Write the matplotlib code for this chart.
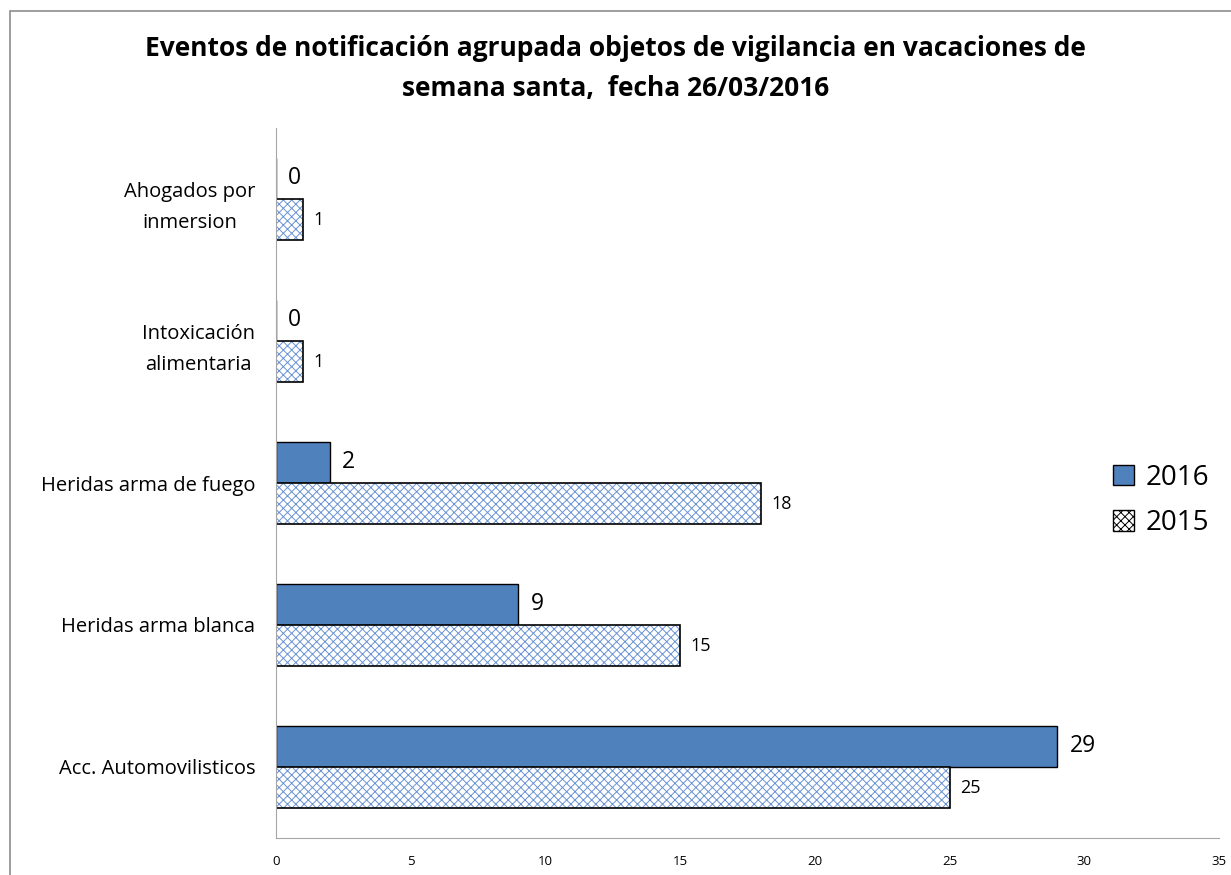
import matplotlib
matplotlib.use("Agg")
import matplotlib.pyplot as plt
from matplotlib.patches import Patch, Rectangle
import numpy as np

categories = ["Acc. Automovilisticos", "Heridas arma blanca", "Heridas arma de fuego",
              "Intoxicación\nalimentaria", "Ahogados por\ninmersion"]
values_2016 = [29, 9, 2, 0, 0]
values_2015 = [25, 15, 18, 1, 1]
series_labels = ["2016", "2015"]
x_ticks = [0, 5, 10, 15, 20, 25, 30, 35]

plt.rcParams["font.family"] = ["Open Sans", "DejaVu Sans"]
plt.rcParams["hatch.linewidth"] = 0.7

blue = "#4F81BD"
hatch_blue = "#6A93D4"

fig = plt.figure(figsize=(12.31, 8.75), dpi=100)
ax = fig.add_axes([0.2242, 0.0423, 0.766, 0.8114])

# Outer chart frame
fig.patches.append(Rectangle((0.0081, -0.1), 1.1, 0.987 + 0.1, transform=fig.transFigure,
                             fill=False, edgecolor="#8c8c8c", linewidth=1.2))

y = np.arange(len(categories))
h = 0.29

ax.barh(y + h / 2, values_2016, height=h, color=blue, edgecolor="black", linewidth=1.0)
ax.barh(y - h / 2, values_2015, height=h, color="white", edgecolor=hatch_blue,
        hatch="xxxx", linewidth=0)
ax.barh(y - h / 2, values_2015, height=h, fill=False, edgecolor="black", linewidth=1.2)

for yi, v in zip(y, values_2016):
    ax.text(v + 0.45, yi + h / 2, str(v), va="center", ha="left", fontsize=16.5)
for yi, v in zip(y, values_2015):
    ax.text(v + 0.4, yi - h / 2, str(v), va="center", ha="left", fontsize=13)

ax.set_xlim(0, 35)
ax.set_ylim(-0.5, 4.5)
ax.set_xticks(x_ticks)
ax.set_xticklabels([str(t) for t in x_ticks], fontsize=9.5)
ax.set_yticks(y)
ax.set_yticklabels(categories, fontsize=14.5, ha="right", linespacing=1.75)
for lbl in ax.get_yticklabels():
    lbl.set_multialignment("center")
ax.tick_params(axis="y", length=0, pad=15)
ax.tick_params(axis="x", length=0, pad=12)
for s in ["top", "right"]:
    ax.spines[s].set_visible(False)
for s in ["left", "bottom"]:
    ax.spines[s].set_color("#a6a6a6")

fig.text(0.5, 0.922,
         "Eventos de notificación agrupada objetos de vigilancia en vacaciones de\n"
         "semana santa,  fecha 26/03/2016",
         ha="center", va="center", fontsize=19, fontweight="bold", linespacing=1.6)

handles = [Patch(facecolor=blue, edgecolor="black"),
           Patch(facecolor="white", edgecolor=hatch_blue, hatch="xxxx")]
leg = fig.legend(handles, series_labels, loc="center left", bbox_to_anchor=(0.884, 0.428),
                 frameon=False, fontsize=20, handlelength=0.75, handleheight=0.75,
                 handletextpad=0.4, labelspacing=0.62)
for p in leg.get_patches():
    p.set_edgecolor("black")

fig.savefig("out.png", dpi=100)
